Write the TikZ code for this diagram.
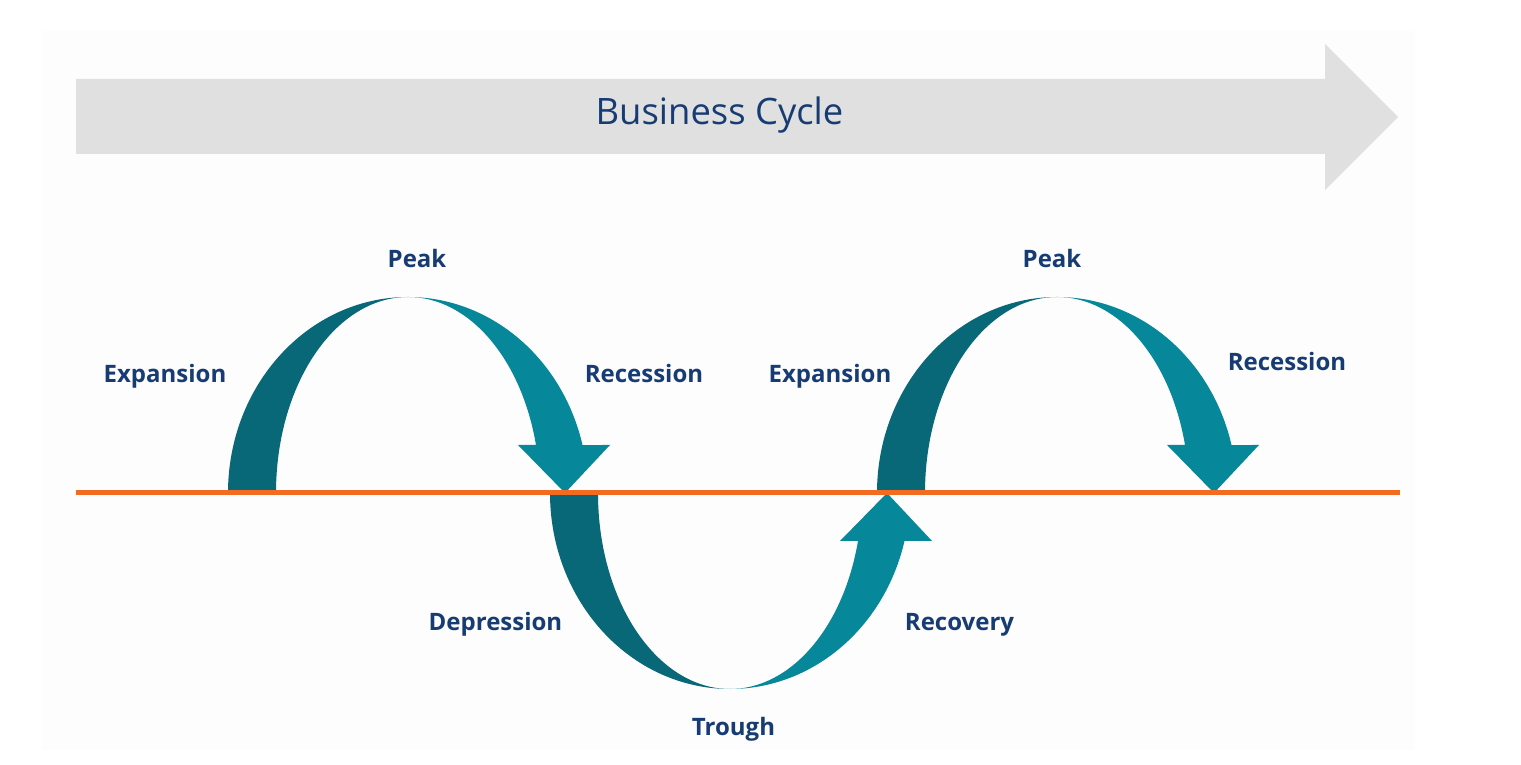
\documentclass[tikz,border=0pt]{standalone}
\usepackage{fontspec}
\setmainfont{Open Sans}
\usepackage{tikz}

\definecolor{cycledark}{HTML}{086878}
\definecolor{cyclelight}{HTML}{06879A}
\definecolor{cyclenavy}{HTML}{173C74}
\definecolor{cycleline}{HTML}{F26B21}
\definecolor{cyclegrey}{HTML}{E0E0E0}
\definecolor{cyclepanel}{HTML}{FDFDFD}

\begin{document}
\begin{tikzpicture}[x=0.5pt, y=0.5pt,
  stage/.style={text=cyclenavy, anchor=base, font=\fontsize{12}{14}\selectfont\bfseries},
  rise/.style={fill=cycledark},
  fall/.style={fill=cyclelight}]
\useasboundingbox (0,0) rectangle (1521,765);
\fill[white] (0,0) rectangle (1521,765);
\fill[cyclepanel] (42,15) rectangle (1415,734);

% time arrow
\fill[cyclegrey] (76,686) -- (1325,686) -- (1325,721) -- (1398,648) -- (1325,575) -- (1325,611) -- (76,611) -- cycle;
\node[text=cyclenavy, anchor=base, font=\fontsize{18.2}{22}\selectfont] (title) at (719.5,640) {Business Cycle};

% first hill
\begin{scope}[shift={(408,272)}]
\fill[rise] (-180,0) arc[start angle=180, end angle=90, x radius=180, y radius=196]
  arc[start angle=90, end angle=180, x radius=132, y radius=196] -- cycle;
\fill[fall] (0,196) arc[start angle=90, end angle=14.17, x radius=180, y radius=196]
  -- (202,48) -- (157,0) -- (110,48) -- (128,48)
  arc[start angle=14.17, end angle=90, x radius=132, y radius=196] -- cycle;
\end{scope}

% valley
\begin{scope}[shift={(730,272)}, yscale=-1]
\fill[rise] (-180,0) arc[start angle=180, end angle=90, x radius=180, y radius=196]
  arc[start angle=90, end angle=180, x radius=132, y radius=196] -- cycle;
\fill[fall] (0,196) arc[start angle=90, end angle=14.17, x radius=180, y radius=196]
  -- (202,48) -- (157,0) -- (110,48) -- (128,48)
  arc[start angle=14.17, end angle=90, x radius=132, y radius=196] -- cycle;
\end{scope}

% second hill
\begin{scope}[shift={(1057,272)}]
\fill[rise] (-180,0) arc[start angle=180, end angle=90, x radius=180, y radius=196]
  arc[start angle=90, end angle=180, x radius=132, y radius=196] -- cycle;
\fill[fall] (0,196) arc[start angle=90, end angle=14.17, x radius=180, y radius=196]
  -- (202,48) -- (157,0) -- (110,48) -- (128,48)
  arc[start angle=14.17, end angle=90, x radius=132, y radius=196] -- cycle;
\end{scope}

% trend line
\draw[cycleline, line width=2.5pt] (76,272) -- (1400,272);

\node[stage] (peakA) at (417,497) {Peak};
\node[stage] (expA) at (165,382) {Expansion};
\node[stage] (recA) at (644,382) {Recession};
\node[stage] (expB) at (830,382) {Expansion};
\node[stage] (peakB) at (1052,497) {Peak};
\node[stage] (recB) at (1287,394) {Recession};
\node[stage] (depr) at (495.5,134) {Depression};
\node[stage] (recov) at (959.5,134) {Recovery};
\node[stage] (trough) at (733.5,29) {Trough};
\end{tikzpicture}
\end{document}
